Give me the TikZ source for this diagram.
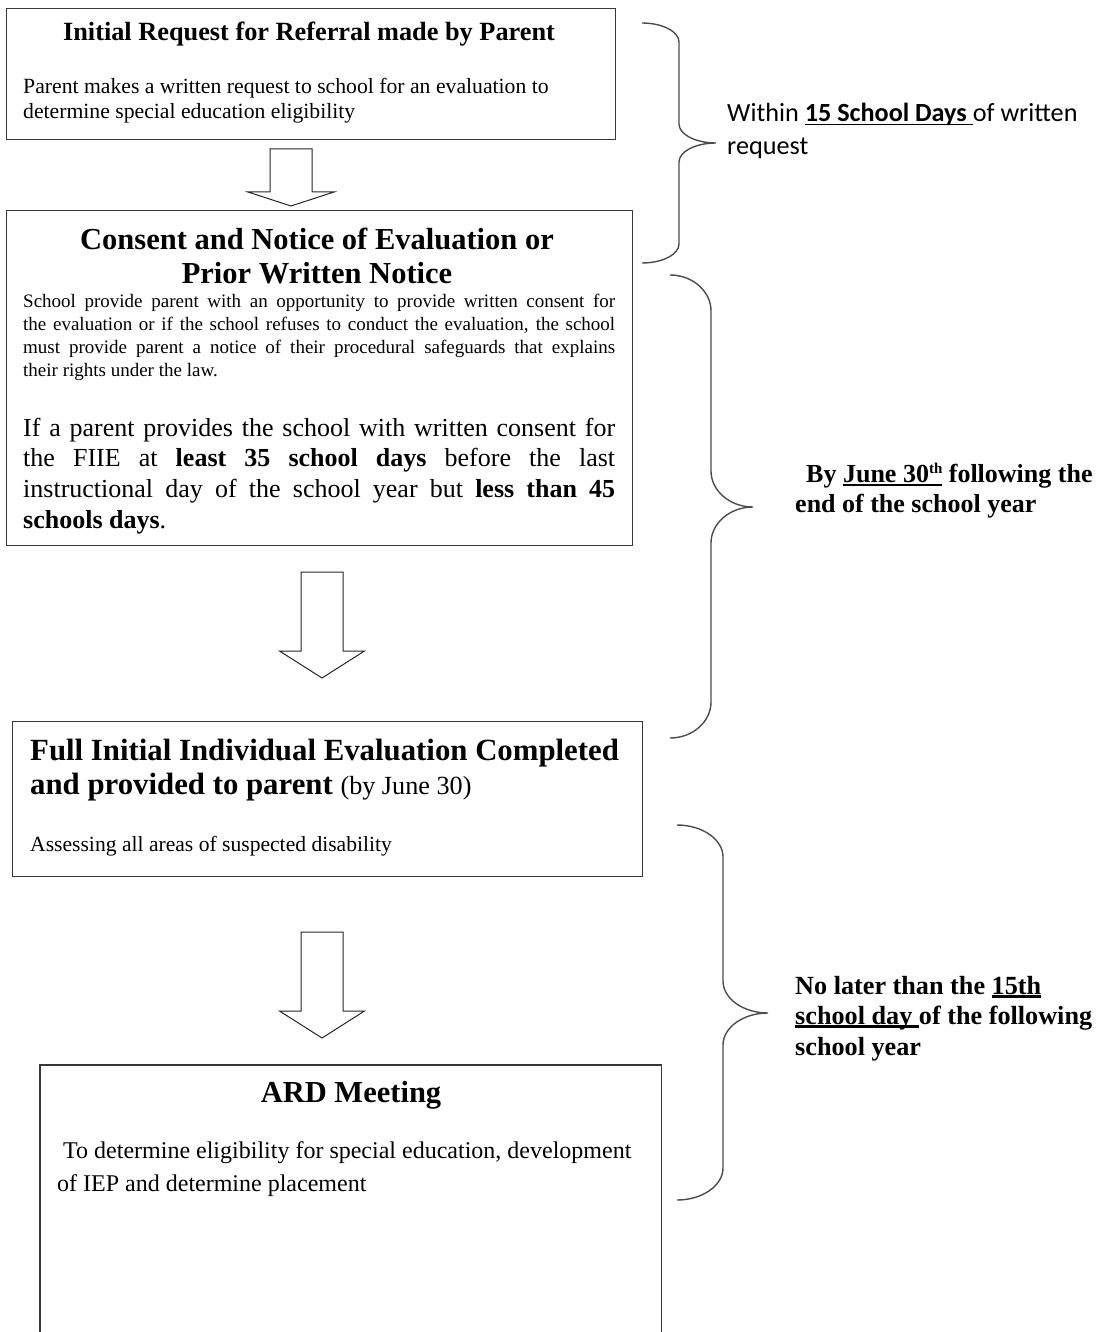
\documentclass[tikz,border=0pt]{standalone}
\usepackage{fontspec}
\setmainfont{Liberation Serif}
\newfontfamily\calib{Carlito}
\usetikzlibrary{calc}
\newsavebox\ulbox
\newcommand{\myul}[2][1.8pt]{\sbox\ulbox{#2}\rlap{\rule[-3.5pt]{\wd\ulbox}{#1}}\usebox\ulbox}
\newcommand{\fs}[2]{\fontsize{#1}{#2}\selectfont}
\newcommand{\blockarrow}[6]{%
  \draw[arrowline] ({#1-#5},#2) -- ({#1+#5},#2) -- ({#1+#5},#3) -- ({#1+#6},#3) -- (#1,#4) -- ({#1-#6},#3) -- ({#1-#5},#3) -- cycle;}
\newcommand{\curly}[7]{%
  \draw[bracel] (#1,#4) .. controls ({#1+0.55*(#2-#1)},#4) and (#2,{#4+0.45*#7}) .. (#2,{#4+#7})
   -- (#2,{#5-#7}) .. controls (#2,{#5-0.45*#7}) and ({#2+0.45*(#3-#2)},#5) .. (#3,#5)
   .. controls ({#2+0.45*(#3-#2)},#5) and (#2,{#5+0.45*#7}) .. (#2,{#5+#7})
   -- (#2,{#6-#7}) .. controls (#2,{#6-0.45*#7}) and ({#1+0.55*(#2-#1)},#6) .. (#1,#6);}
\begin{document}
\begin{tikzpicture}[x=1pt,y=-1pt,
  box/.style={draw=black!78,line width=1.3pt,inner sep=0pt,anchor=north west},
  openbox/.style={inner sep=0pt,anchor=north west},
  txt/.style={inner sep=0pt,anchor=base west},
  ctxt/.style={inner sep=0pt,anchor=base},
  arrowline/.style={draw=black!85,line width=1pt,fill=white,line join=miter},
  bracel/.style={draw=black!70,line width=1.4pt}]
\useasboundingbox (0,0) rectangle (1103,1332);
% ---------- boxes ----------
\node[box,minimum width=609pt,minimum height=131pt] (b1) at (6,8) {};
\node[box,minimum width=626pt,minimum height=335pt] (b2) at (6,210) {};
\node[box,minimum width=630pt,minimum height=155pt] (b3) at (12,721) {};
\node[openbox,minimum width=621pt,minimum height=280pt] (b4) at (40,1065) {};
\draw[draw=black!78,line width=1.3pt] (b4.south west) -- (b4.north west) -- (b4.north east) -- (b4.south east);
% ---------- box 1 ----------
\node[ctxt,font=\bfseries\fs{26.3}{30}] (t1) at (309,41) {Initial Request for Referral made by Parent};
\node[txt,font=\fs{21.7}{25}] (p1a) at (23,94) {Parent makes a written request to school for an evaluation to};
\node[txt,font=\fs{21.7}{25}] (p1b) at (23,119) {determine special education eligibility};
% ---------- box 2 ----------
\node[ctxt,font=\bfseries\fs{30.5}{34}] (t2a) at (317,250) {Consent and Notice of Evaluation or};
\node[ctxt,font=\bfseries\fs{30.5}{34}] (t2b) at (317,283) {Prior Written Notice};
\node[txt] (p2a) at (23,307) {\parbox[t]{592pt}{\fs{19}{23}\hyphenpenalty=10000\emergencystretch=20pt
School provide parent with an opportunity to provide written consent for\linebreak
the evaluation or if the school refuses to conduct the evaluation, the school\linebreak
must provide parent a notice of their procedural safeguards that explains\linebreak
their rights under the law.}};
\node[txt] (p2b) at (23,436) {\parbox[t]{592pt}{\fs{26}{30.7}\hyphenpenalty=10000\emergencystretch=20pt
If a parent provides the school with written consent for\linebreak
the FIIE at \textbf{least 35 school days} before the last\linebreak
instructional day of the school year but \textbf{less than 45}\linebreak
\textbf{schools days}.}};
% ---------- box 3 ----------
\node[txt,font=\bfseries\fs{30.8}{34}] (t3a) at (30,760) {Full Initial Individual Evaluation Completed};
\node[txt,font=\fs{30.8}{34}] (t3b) at (30,794) {\textbf{and provided to parent} {\fs{26.2}{30}(by June 30)}};
\node[txt,font=\fs{21.6}{25}] (p3) at (30,851) {Assessing all areas of suspected disability};
% ---------- box 4 ----------
\node[ctxt,font=\bfseries\fs{30.5}{34}] (t4) at (351,1102) {ARD Meeting};
\node[txt,font=\fs{24}{33}] (p4a) at (63,1158) {To determine eligibility for special education, development};
\node[txt,font=\fs{24}{33}] (p4b) at (57,1191) {of IEP and determine placement};
% ---------- arrows ----------
\blockarrow{291}{149}{192}{206}{21}{43}
\blockarrow{322}{572}{651}{678}{21}{42.5}
\blockarrow{322}{932}{1011}{1038}{21}{42.5}
% ---------- braces ----------
\curly{642}{679}{716}{23}{143}{263}{19}
\curly{670}{711}{753}{275}{507}{738}{36}
\curly{677}{723}{768}{825}{1013}{1200}{32}
% ---------- brace texts ----------
\node[txt,font=\calib\fs{26.2}{33}] (r1a) at (727,122) {Within \myul[1.8pt]{\textbf{15 School Days }}of written};
\node[txt,font=\calib\fs{26.2}{33}] (r1b) at (727,155) {request};
\node[txt,font=\bfseries\fs{26}{30}] (r2a) at (806,482) {By \myul[1.6pt]{June 30{\fs{15}{15}\raisebox{9pt}{th}}} following the};
\node[txt,font=\bfseries\fs{26}{30}] (r2b) at (795,512) {end of the school year};
\node[txt,font=\bfseries\fs{26.2}{31}] (r3a) at (795,994) {No later than the \myul[2.2pt]{15th}};
\node[txt,font=\bfseries\fs{26.2}{31}] (r3b) at (795,1024) {\myul[2.2pt]{school day }of the following};
\node[txt,font=\bfseries\fs{26.2}{31}] (r3c) at (795,1055) {school year};
\end{tikzpicture}
\end{document}
